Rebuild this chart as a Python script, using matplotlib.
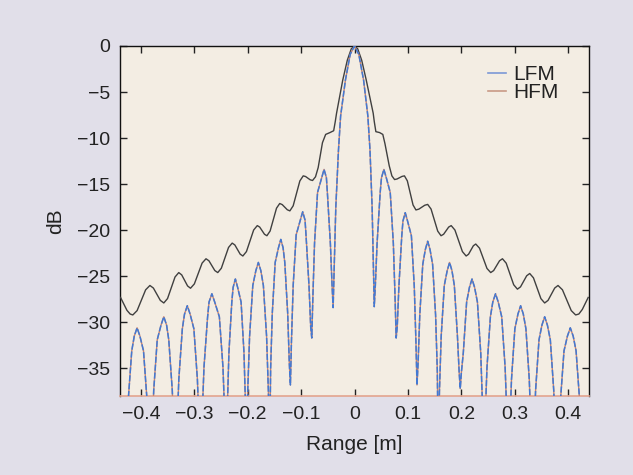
import matplotlib
matplotlib.use("Agg")
import matplotlib.pyplot as plt
from matplotlib.lines import Line2D

plt.rcParams['font.family'] = ['Liberation Sans', 'DejaVu Sans']

# ---------------- data ----------------
LFM_X = [
    -0.430, -0.4276, -0.4238, -0.417, -0.4123, -0.407, -0.4017, -0.395, -0.3882, -0.3844,
    -0.382, -0.3797, -0.3759, -0.3693, -0.3622, -0.357, -0.3518, -0.3477, -0.3411, -0.3374,
    -0.335, -0.3327, -0.3289, -0.3223, -0.3182, -0.313, -0.3078, -0.3007, -0.2941, -0.2904,
    -0.288, -0.2856, -0.2818, -0.275, -0.2723, -0.267, -0.2617, -0.253, -0.2462, -0.2424,
    -0.240, -0.2381, -0.2351, -0.2297, -0.2272, -0.223, -0.2188, -0.2123, -0.2069, -0.2039,
    -0.202, -0.1999, -0.1964, -0.1904, -0.1847, -0.180, -0.1753, -0.1706, -0.1646, -0.1612,
    -0.159, -0.157, -0.1539, -0.1485, -0.1423, -0.138, -0.1337, -0.1305, -0.1251, -0.122,
    -0.120, -0.118, -0.1148, -0.1092, -0.1014, -0.097, -0.0926, -0.0908, -0.0852, -0.082,
    -0.080, -0.078, -0.0748, -0.0692, -0.0614, -0.057, -0.0526, -0.0508, -0.0452, -0.042,
    -0.040, -0.035, -0.030, -0.026, -0.017, -0.008,
    0.0,
    0.008, 0.017, 0.025, 0.029, 0.033,
    0.037, 0.039, 0.0423, 0.0481, 0.0505, 0.055, 0.0595, 0.0669, 0.0727, 0.076,
    0.078, 0.080, 0.0831, 0.0885, 0.0907, 0.095, 0.0993, 0.1065, 0.1119, 0.115,
    0.117, 0.119, 0.1222, 0.1278, 0.1326, 0.137, 0.1414, 0.1462, 0.1518, 0.155,
    0.157, 0.159, 0.1623, 0.1681, 0.1735, 0.178, 0.1825, 0.1869, 0.1927, 0.196,
    0.198, 0.200, 0.2037, 0.2099, 0.2152, 0.220, 0.2248, 0.2301, 0.2363, 0.2398,
    0.242, 0.2443, 0.248, 0.2544, 0.2589, 0.264, 0.2691, 0.2756, 0.282, 0.2857,
    0.288, 0.2903, 0.2939, 0.3002, 0.306, 0.311, 0.316, 0.3209, 0.3272, 0.3308,
    0.333, 0.3353, 0.339, 0.3454, 0.3509, 0.356, 0.3611, 0.3666, 0.373, 0.3767,
    0.379, 0.3815, 0.3854, 0.3922, 0.3986, 0.404, 0.4094, 0.4148, 0.4216, 0.4255,
    0.428,
]
LFM_DB = [
    -45, -44.6, -38.6, -33.1, -31.5, -30.6, -31.5, -33.1, -38.6, -44.6,
    -45, -43.4, -37.4, -31.9, -30.3, -29.4, -30.3, -31.9, -37.4, -43.4,
    -45, -42.2, -36.2, -30.7, -29.1, -28.2, -29.1, -30.7, -36.2, -42.2,
    -45, -40.9, -34.9, -29.4, -27.8, -26.9, -27.8, -29.4, -34.9, -40.9,
    -45, -39.3, -33.3, -27.8, -26.2, -25.3, -26.2, -27.8, -33.3, -39.3,
    -45, -37.5, -31.5, -26.0, -24.4, -23.5, -24.4, -26.0, -31.5, -37.5,
    -45, -35.0, -29.0, -23.5, -21.9, -21.0, -21.9, -23.5, -29.0, -34.5,
    -36.8, -32.0, -26.0, -20.5, -18.9, -18.0, -18.9, -20.5, -26.0, -30.5,
    -31.7, -27.4, -21.4, -15.9, -14.3, -13.4, -14.3, -15.9, -21.4, -26.0,
    -28.4, -17.5, -11.3, -7.6, -3.7, -0.9,
    0.0,
    -0.9, -3.7, -7.6, -11.3, -17.5,
    -28.3, -26.0, -21.4, -15.9, -14.3, -13.4, -14.3, -15.9, -21.4, -27.4,
    -31.7, -30.5, -26.1, -20.6, -19.0, -18.1, -19.0, -20.6, -26.1, -32.1,
    -36.8, -34.5, -29.2, -23.7, -22.1, -21.2, -22.1, -23.7, -29.2, -35.2,
    -45, -37.5, -31.5, -26.0, -24.4, -23.5, -24.4, -26.0, -31.5, -35.5,
    -37.2, -35.5, -33.3, -27.8, -26.2, -25.3, -26.2, -27.8, -33.3, -39.3,
    -45, -40.9, -34.9, -29.4, -27.8, -26.9, -27.8, -29.4, -34.9, -40.9,
    -45, -42.2, -36.2, -30.7, -29.1, -28.2, -29.1, -30.7, -36.2, -42.2,
    -45, -43.4, -37.4, -31.9, -30.3, -29.4, -30.3, -31.9, -37.4, -43.4,
    -45, -44.6, -38.6, -33.1, -31.5, -30.6, -31.5, -33.1, -38.6, -44.6,
    -45,
]
# HFM coincides with LFM in the picture
HFM_X = list(LFM_X)
HFM_DB = list(LFM_DB)

ENV_X = [
    -0.438, -0.426, -0.420, -0.415, -0.407, -0.399, -0.391, -0.383,
    -0.3765, -0.370, -0.3635, -0.357, -0.350, -0.343, -0.336, -0.329,
    -0.3235, -0.318, -0.3125, -0.307, -0.2998, -0.2925, -0.2853, -0.278,
    -0.2725, -0.267, -0.2615, -0.256, -0.2493, -0.2425, -0.2358, -0.229,
    -0.224, -0.219, -0.214, -0.209, -0.2023, -0.1955, -0.1888, -0.182,
    -0.1775, -0.173, -0.1685, -0.164, -0.158, -0.152, -0.146, -0.140,
    -0.1353, -0.1305, -0.1258, -0.121, -0.1148, -0.1085, -0.1023, -0.096,
    -0.0916, -0.0873, -0.0829, -0.0785, -0.073, -0.068, -0.060, -0.054,
    -0.046, -0.039, -0.036, -0.0336, -0.022, -0.0135, -0.006,
    0.0,
    0.006, 0.0135, 0.022, 0.035, 0.037, 0.040, 0.047, 0.053,
    0.057, 0.065, 0.070, 0.075, 0.0796, 0.0843, 0.0889, 0.0935,
    0.0989, 0.1043, 0.1096, 0.115, 0.1205, 0.126, 0.1315, 0.137,
    0.1433, 0.1495, 0.1558, 0.162, 0.1668, 0.1715, 0.1763, 0.181,
    0.188, 0.195, 0.202, 0.209, 0.2135, 0.218, 0.2225, 0.227,
    0.234, 0.241, 0.248, 0.255, 0.2605, 0.266, 0.2715, 0.277,
    0.284, 0.291, 0.298, 0.305, 0.3108, 0.3165, 0.3223, 0.328,
    0.335, 0.342, 0.349, 0.356, 0.3623, 0.3685, 0.3748, 0.381,
    0.3893, 0.3975, 0.4058, 0.414, 0.420, 0.4265, 0.4375,
]
ENV_DB = [
    -27.3, -28.7, -29.1, -29.2, -28.73, -27.6, -26.47, -26.0,
    -26.28, -26.95, -27.62, -27.9, -27.42, -26.25, -25.08, -24.6,
    -24.85, -25.45, -26.05, -26.3, -25.83, -24.7, -23.57, -23.1,
    -23.32, -23.85, -24.38, -24.6, -24.13, -23.0, -21.87, -21.4,
    -21.6, -22.1, -22.6, -22.8, -22.32, -21.15, -19.98, -19.5,
    -19.66, -20.05, -20.44, -20.6, -20.09, -18.85, -17.61, -17.1,
    -17.22, -17.5, -17.78, -17.9, -17.35, -16.0, -14.65, -14.1,
    -14.17, -14.35, -14.53, -14.6, -14.2, -13.2, -10.5, -9.6,
    -9.4, -9.2, -8.2, -7.3, -3.7, -1.55, -0.3,
    0.0,
    -0.3, -1.55, -3.7, -7.3, -8.2, -9.3, -9.4, -9.6,
    -10.6, -13.0, -14.1, -14.5, -14.44, -14.3, -14.16, -14.1,
    -14.64, -15.95, -17.26, -17.8, -17.71, -17.5, -17.29, -17.2,
    -17.7, -18.9, -20.1, -20.6, -20.44, -20.05, -19.66, -19.5,
    -19.98, -21.15, -22.32, -22.8, -22.61, -22.15, -21.69, -21.5,
    -21.95, -23.05, -24.15, -24.6, -24.38, -23.85, -23.32, -23.1,
    -23.58, -24.75, -25.92, -26.4, -26.15, -25.55, -24.95, -24.7,
    -25.17, -26.3, -27.43, -27.9, -27.62, -26.95, -26.28, -26.0,
    -26.47, -27.6, -28.73, -29.2, -29.1, -28.6, -27.3,
]

X_TICKS = [-0.4, -0.3, -0.2, -0.1, 0.0, 0.1, 0.2, 0.3, 0.4]
X_TICK_LABELS = ['\u22120.4', '\u22120.3', '\u22120.2', '\u22120.1', '0',
                 '0.1', '0.2', '0.3', '0.4']
Y_TICKS = [0, -5, -10, -15, -20, -25, -30, -35]
Y_TICK_LABELS = ['0', '\u22125', '\u221210', '\u221215', '\u221220',
                 '\u221225', '\u221230', '\u221235']

# ---------------- figure ----------------
BG = '#e1dfe9'
AX_BG = '#f3ede3'
BLUE = '#4279d4'
RED = '#c8826c'
ENV = '#404040'

fig = plt.figure(figsize=(6.33, 4.75), dpi=100, facecolor=BG)
ax = fig.add_axes([120 / 633, 1 - 396 / 475, 469 / 633, 350 / 475])
ax.set_facecolor(AX_BG)

ax.plot(ENV_X, ENV_DB, color=ENV, lw=1.0, zorder=3)
ax.plot(HFM_X, HFM_DB, color=RED, lw=1.0, zorder=4)
ax.plot(LFM_X, LFM_DB, color=BLUE, lw=1.1, dashes=(4, 1.2), zorder=5)

ax.set_xlim(-0.439, 0.439)
ax.set_ylim(-38.0, 0.0)

ax.set_xticks(X_TICKS)
ax.set_xticklabels(X_TICK_LABELS)
ax.set_yticks(Y_TICKS)
ax.set_yticklabels(Y_TICK_LABELS)
ax.tick_params(direction='in', length=5, width=1.0, labelsize=14,
               top=True, right=True, colors='#222222', labelcolor='#222222',
               pad=7)

for s in ['left', 'right', 'top']:
    ax.spines[s].set_color('#111111')
    ax.spines[s].set_linewidth(1.0)
ax.spines['bottom'].set_color('#e3a48e')
ax.spines['bottom'].set_linewidth(1.2)

ax.set_xlabel('Range [m]', fontsize=15, color='#222222', labelpad=9)
ax.set_ylabel('dB', fontsize=15, color='#222222', labelpad=9)

handles = [Line2D([], [], color='#7b98d6', lw=1.2),
           Line2D([], [], color='#c89a86', lw=1.2)]
ax.legend(handles, ['LFM', 'HFM'], loc='upper right',
          bbox_to_anchor=(0.936, 0.945), frameon=False, fontsize=15,
          handlelength=0.9, handletextpad=0.35, labelspacing=-0.05,
          borderpad=0.0, borderaxespad=0.0, labelcolor='#222222')

fig.savefig('out.png', dpi=100, facecolor=BG)
